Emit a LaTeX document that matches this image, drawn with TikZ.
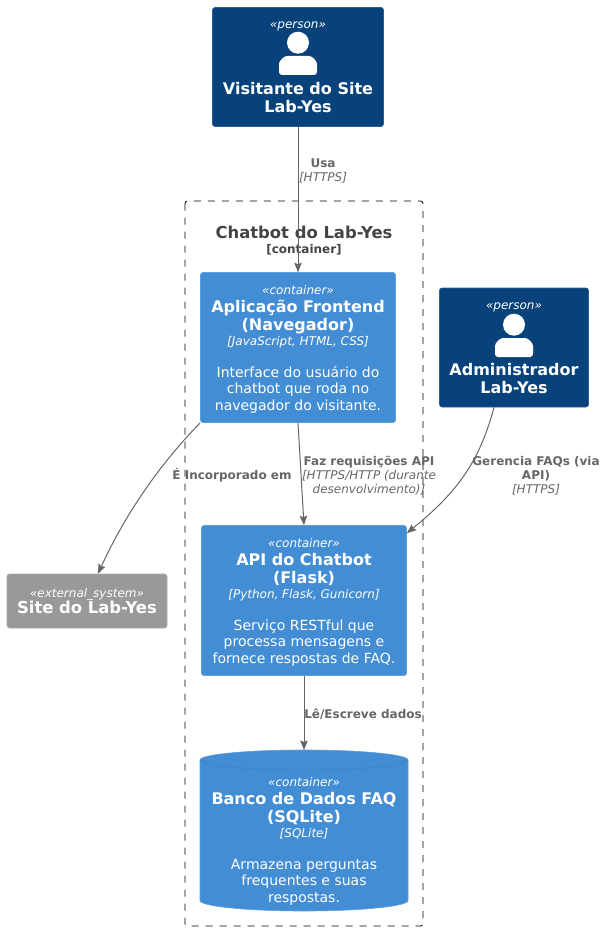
\documentclass[tikz,border=0pt]{standalone}
\usepackage{fontspec}
\setmainfont{DejaVu Sans}
\usetikzlibrary{arrows.meta,positioning}
\definecolor{persondark}{HTML}{08427B}
\definecolor{containerblue}{HTML}{438DD5}
\definecolor{externalgrey}{HTML}{999999}
\definecolor{linegrey}{HTML}{666666}
\definecolor{boundarytext}{HTML}{444444}
\lineskip=0pt
\newcommand\stereotxt{\fontsize{12}{0}\itshape\selectfont\rule[-4pt]{0pt}{15pt}}
\newcommand\stereotop{\fontsize{12}{0}\itshape\selectfont\rule[-4pt]{0pt}{17pt}}
\newcommand\titletxt{\fontsize{16}{0}\bfseries\selectfont\rule[-4pt]{0pt}{18pt}}
\newcommand\techtxt{\fontsize{12}{0}\itshape\selectfont\rule[-3pt]{0pt}{14pt}}
\newcommand\desctxt{\fontsize{14}{0}\selectfont\rule[-3.5pt]{0pt}{16.5pt}}
\tikzset{
%Define standard arrow tip
>={Stealth[length=9.5pt,width=7.5pt,inset=1.5pt]},
%Define style for the boxes
element/.style={rounded corners=2.5pt, text=white, align=center, inner sep=0pt, line width=0.6pt},
person/.style={element, fill=persondark, draw=persondark!85!white},
container/.style={element, fill=containerblue, draw=containerblue!85!white},
external/.style={element, fill=externalgrey, draw=externalgrey!85!white},
database/.style={inner sep=0pt, outer sep=0pt},
dbbody/.style={fill=containerblue, draw=containerblue!85!white, line width=0.6pt},
dbrim/.style={draw=containerblue!90!black, line width=0.4pt},
dbtext/.style={text=white, align=center, inner sep=0pt},
%Define style for connectors and their labels
connection/.style={->, draw=linegrey, line width=1pt},
rellabel/.style={text=linegrey, align=center, inner sep=0pt, font=\fontsize{12}{14}\selectfont},
boundary/.style={draw=black, line width=0.8pt, dash pattern=on 7pt off 7pt, rounded corners=2.5pt},
%The person figure, its origin on top of the body
personicon/.pic={
    \fill[white] (0,-13.3) circle (11);
    \fill[white, rounded corners=3pt] (-19,19) -- (-19,11) to[out=90,in=180] (-8,0) -- (8,0) to[out=0,in=90] (19,11) -- (19,19) -- cycle;
}
}

\begin{document}
\begin{tikzpicture}[x=1pt,y=-1pt]
    \useasboundingbox (0,0) rectangle (607,931);
    %The dashed boundary goes first
    \draw[boundary] (185,201) rectangle (423,926);
    \node[inner sep=0pt, text=boundarytext, align=center] (boundarytitle) at (304,240)
        {\fontsize{16.4}{0}\bfseries\selectfont\rule[-4pt]{0pt}{18pt}Chatbot do Lab-Yes\\\fontsize{12}{0}\bfseries\selectfont\rule[-3pt]{0pt}{14pt}[container]};

    %People
    \node[person, minimum width=171pt, minimum height=119pt] (visitor) at (298,67)
        {\stereotxt «person»\\[48pt]\titletxt Visitante do Site\\\titletxt Lab-Yes};
    \pic at (298,56) {personicon};
    \node[person, minimum width=149pt, minimum height=119pt] (admin) at (514,347.5)
        {\stereotxt «person»\\[48pt]\titletxt Administrador\\\titletxt Lab-Yes};
    \pic at (514,338) {personicon};

    %Containers
    \node[container, minimum width=195pt, minimum height=150pt] (frontend) at (298,347.5)
        {\stereotop «container»\\\titletxt Aplicação Frontend\\\titletxt (Navegador)\\\techtxt [JavaScript, HTML, CSS]\\[16pt]\desctxt Interface do usuário do\\\desctxt chatbot que roda no\\\desctxt navegador do visitante.};
    \node[container, minimum width=205pt, minimum height=150pt] (api) at (304,600.5)
        {\stereotop «container»\\\titletxt API do Chatbot\\\titletxt (Flask)\\\techtxt [Python, Flask, Gunicorn]\\[16pt]\desctxt Serviço RESTful que\\\desctxt processa mensagens e\\\desctxt fornece respostas de FAQ.};
    \node[external, minimum width=160pt, minimum height=54pt] (site) at (87,601)
        {\stereotop «external\_system»\\\fontsize{16.4}{0}\bfseries\selectfont\rule[-4pt]{0pt}{16pt}Site do Lab-Yes};

    %The database, body first and text on top
    \node[database, minimum width=208pt, minimum height=161pt] (db) at (304,830.5) {};
    \draw[dbbody] ([yshift=-10pt]db.north west) arc[start angle=180, end angle=0, x radius=104pt, y radius=10pt]
        -- ([yshift=10.5pt]db.south east) arc[start angle=0, end angle=-180, x radius=104pt, y radius=10.5pt] -- cycle;
    \draw[dbrim] ([yshift=-10pt]db.north west) arc[start angle=180, end angle=360, x radius=104pt, y radius=10pt];
    \node[dbtext] (dbtext) at (304,839.5)
        {\stereotop «container»\\\titletxt Banco de Dados FAQ\\\titletxt (SQLite)\\\techtxt [SQLite]\\[16pt]\desctxt Armazena perguntas\\\desctxt frequentes e suas\\\desctxt respostas.};

    %Connectors
    \draw[connection] (visitor.south) -- (frontend.north);
    \draw[connection] (frontend.south) -- (api.north);
    \draw[connection] (api.south) -- (db.north);
    \draw[connection] (frontend.south west) .. controls +(-41,42) and +(27,-59) .. ([xshift=11pt]site.north);
    \draw[connection] ([xshift=-20pt]admin.south) .. controls +(-14,52) and +(53,-43) .. ([yshift=-8pt]api.north east);

    %Labels of the connectors
    \node[rellabel] (usalabel) at (323,171) {\textbf{Usa}\\\textit{[HTTPS]}};
    \node[rellabel] (embedlabel) at (232,475) {\textbf{É Incorporado em}};
    \node[rellabel] (apilabel) at (369,475.5) {\textbf{Faz requisições API}\\\textit{[HTTPS/HTTP (durante}\\\textit{desenvolvimento)]}};
    \node[rellabel] (faqlabel) at (536,475.5) {\textbf{Gerencia FAQs (via}\\\textbf{API)}\\\textit{[HTTPS]}};
    \node[rellabel] (dblabel) at (363,714) {\textbf{Lê/Escreve dados}};
\end{tikzpicture}
\end{document}
